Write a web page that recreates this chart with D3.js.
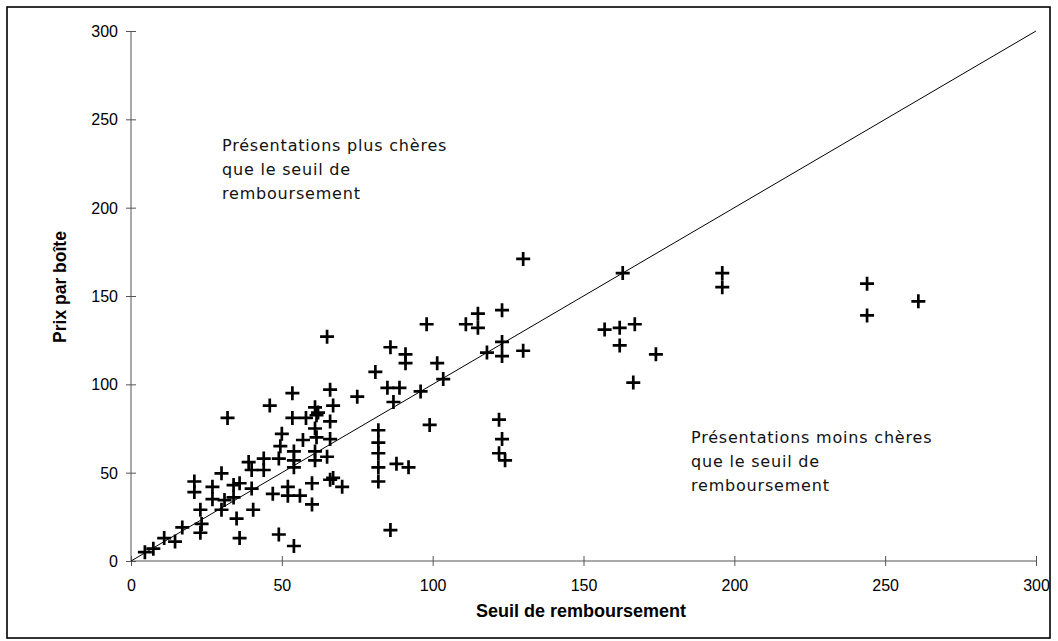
<!DOCTYPE html>
<html>
<head>
<meta charset="utf-8">
<script src="https://cdn.jsdelivr.net/npm/d3@7"></script>
<style>
  html, body { margin: 0; padding: 0; background: #fff; }
  svg { display: block; }
</style>
</head>
<body>
<svg id="chart" width="1058" height="641"></svg>
<script>
// Reimbursement threshold (x) vs price per box (y), one entry per presentation
const seuil = [
  163, 157, 162, 167, 162, 174, 166.5, 196, 196, 244, 244, 261,
  130, 123, 115, 115, 111, 98, 123, 123, 118, 130, 86, 91, 91, 101.5, 103.5,
  81, 96, 85, 89, 87, 75, 99, 82, 82, 82, 82, 82, 88, 92, 86, 122, 123, 122, 124,
  65, 66, 67, 66, 67, 70,
  46, 32, 53.5, 53.5, 58, 62, 61, 61.5, 61, 66, 57, 61.5, 50, 49.5, 54, 61, 65,
  54, 61, 49, 44, 39, 54, 40, 44, 30, 21, 21, 27, 34, 40, 52, 60, 66, 36,
  27, 31, 34, 47, 52, 56, 60, 23, 30, 35, 40.5, 17, 23, 23.4, 11, 14.6, 7.4, 4.6,
  36, 49, 54
];
const prix = [
  163, 131, 132, 134, 122, 117, 101, 163, 155, 157, 139, 147,
  171, 142, 140, 132, 134, 134, 124, 116, 118, 119, 121, 117, 112, 112, 103,
  107, 96, 98, 98, 90, 93, 77, 74, 67, 61, 53, 45, 55, 53, 17.5, 80, 69, 61, 57,
  127, 97, 88, 79, 47, 42,
  88, 81, 95, 81, 81, 84, 87, 82.5, 75, 69, 68.5, 70, 72, 65, 62, 62, 59,
  57, 57, 58, 58, 56, 53, 51.5, 51.5, 49.6, 45, 39, 42, 43, 41, 42, 44, 46, 44,
  35, 34.5, 36, 38, 37, 37, 32, 29, 29, 24, 29, 19, 16, 21, 13, 11, 7, 5,
  13, 15, 8.5
];
const tickValues = [0, 50, 100, 150, 200, 250, 300];
const xTitle = "Seuil de remboursement";
const yTitle = "Prix par boîte";
const noteAbove = ["Présentations plus chères", "que le seuil de", "remboursement"];
const noteBelow = ["Présentations moins chères", "que le seuil de", "remboursement"];

const svg = d3.select("#chart");

// outer frame
svg.append("rect")
  .attr("x", 7).attr("y", 7)
  .attr("width", 1043).attr("height", 631)
  .attr("fill", "#fff").attr("stroke", "#000").attr("stroke-width", 1.6);

const x = d3.scaleLinear().domain([0, 300]).range([131, 1036]);
const y = d3.scaleLinear().domain([0, 300]).range([561, 31]);

const axisColor = "#555";
const tickFont = "'Liberation Sans', Arial, sans-serif";

// x axis
const gx = svg.append("g")
  .attr("transform", `translate(0,${y(0)})`)
  .call(d3.axisBottom(x).tickValues(tickValues).tickSize(5).tickPadding(0).tickFormat(d3.format("d")));
gx.select(".domain").attr("stroke", axisColor).attr("d", `M${x(0)},0H${x(300)}`);
gx.selectAll(".tick line").attr("stroke", axisColor).attr("y1", -5).attr("y2", 5);
gx.selectAll(".tick text")
  .attr("y", 30).attr("dy", null)
  .attr("fill", "#000")
  .style("font-family", tickFont).style("font-size", "16px");

// y axis
const gy = svg.append("g")
  .attr("transform", `translate(${x(0)},0)`)
  .call(d3.axisLeft(y).tickValues(tickValues).tickSize(5).tickPadding(0).tickFormat(d3.format("d")));
gy.select(".domain").attr("stroke", axisColor).attr("d", `M0,${y(0)}V${y(300)}`);
gy.selectAll(".tick line").attr("stroke", axisColor).attr("x1", -5).attr("x2", 5);
gy.selectAll(".tick text")
  .attr("x", -13).attr("dy", "0.35em")
  .attr("fill", "#000")
  .style("font-family", tickFont).style("font-size", "16px");

// axis titles
svg.append("text")
  .attr("x", 581).attr("y", 617)
  .attr("text-anchor", "middle")
  .style("font-family", tickFont).style("font-size", "18px").style("font-weight", "bold")
  .text(xTitle);

svg.append("text")
  .attr("transform", `translate(66,287) rotate(-90)`)
  .attr("text-anchor", "middle")
  .style("font-family", tickFont).style("font-size", "17.5px").style("font-weight", "bold")
  .text(yTitle);

// diagonal: price equal to the threshold
svg.append("line")
  .attr("x1", x(0)).attr("y1", y(0))
  .attr("x2", x(300)).attr("y2", y(300))
  .attr("stroke", "#000").attr("stroke-width", 1);

// presentations as bold plus markers
const pts = seuil.map((s, i) => [s, prix[i]]);
svg.append("g")
  .selectAll("path")
  .data(pts)
  .join("path")
  .attr("transform", d => `translate(${x(d[0])},${y(d[1])})`)
  .attr("d", "M-7,0H7M0,-7V7")
  .attr("stroke", "#000")
  .attr("stroke-width", 2.7)
  .attr("fill", "none");

// region notes
const noteFont = "'DejaVu Sans', sans-serif";
function note(lines, x0, y0) {
  const t = svg.append("text")
    .style("font-family", noteFont).style("font-size", "16px")
    .style("letter-spacing", "0.8px")
    .attr("fill", "#111");
  lines.forEach((l, i) => {
    t.append("tspan").attr("x", x0).attr("y", y0 + i * 24).text(l);
  });
}
note(noteAbove, 222, 151);
note(noteBelow, 691, 443);
</script>
</body>
</html>
